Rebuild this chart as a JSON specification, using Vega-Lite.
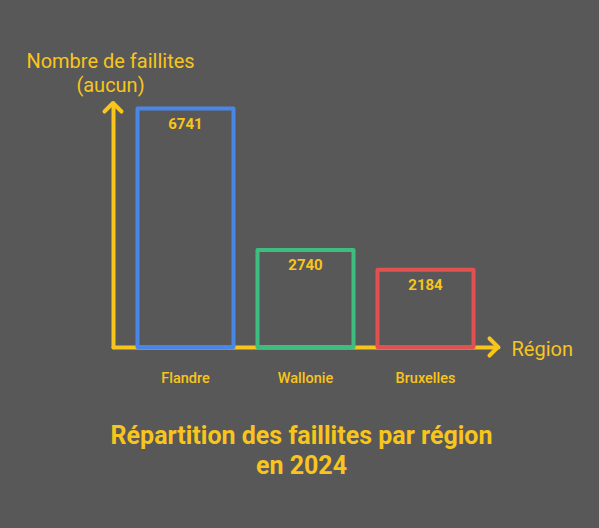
{
  "$schema": "https://vega.github.io/schema/vega-lite/v6.json",
  "autosize": {"type": "none"},
  "padding": {"left": 113, "top": 103, "right": 101, "bottom": 181},
  "width": 385,
  "height": 244,
  "background": "#585858",
  "config": {
    "view": {"stroke": null},
    "font": "Roboto"
  },
  "title": {
    "text": ["Répartition des faillites par région", "en 2024"],
    "orient": "bottom",
    "anchor": "middle",
    "frame": "group",
    "dx": -4,
    "offset": 39,
    "font": "Roboto",
    "fontSize": 25,
    "fontWeight": "bold",
    "lineHeight": 30,
    "color": "#F8C51C"
  },
  "data": {
    "values": [
      {"region": "Flandre", "faillites": 6741, "couleur": "Flandre"},
      {"region": "Wallonie", "faillites": 2740, "couleur": "Wallonie"},
      {"region": "Bruxelles", "faillites": 2184, "couleur": "Bruxelles"}
    ]
  },
  "encoding": {
    "x": {
      "field": "region",
      "type": "nominal",
      "sort": null,
      "scale": {"paddingInner": 0.2, "paddingOuter": 0.204},
      "axis": {
        "title": "Région",
        "titleAlign": "left",
        "titleBaseline": "alphabetic",
        "titleX": 398,
        "titleY": 8,
        "titleFont": "Roboto",
        "titleFontSize": 20,
        "titleFontWeight": "normal",
        "titleColor": "#F8C51C",
        "labelAngle": 0,
        "labelFont": "Roboto",
        "labelFontSize": 14.5,
        "labelFontWeight": 500,
        "labelColor": "#F8C51C",
        "labelPadding": 24,
        "ticks": false,
        "domainColor": "#F8C51C",
        "domainWidth": 4,
        "domainCap": "round",
        "grid": false
      }
    },
    "y": {
      "field": "faillites",
      "type": "quantitative",
      "scale": {"domain": [0, 6900], "nice": false},
      "axis": {
        "title": ["Nombre de faillites", "(aucun)"],
        "titleAngle": 0,
        "titleAlign": "center",
        "titleBaseline": "alphabetic",
        "titleX": -3,
        "titleY": -36,
        "titleFont": "Roboto",
        "titleFontSize": 20,
        "titleFontWeight": "normal",
        "titleLineHeight": 24,
        "titleColor": "#F8C51C",
        "labels": false,
        "ticks": false,
        "grid": false,
        "domainColor": "#F8C51C",
        "domainWidth": 4,
        "domainCap": "round"
      }
    }
  },
  "layer": [
    {
      "mark": {
        "type": "bar",
        "filled": false,
        "strokeWidth": 4,
        "strokeJoin": "round",
        "fill": null
      },
      "encoding": {
        "stroke": {
          "field": "couleur",
          "type": "nominal",
          "scale": {
            "domain": ["Flandre", "Wallonie", "Bruxelles"],
            "range": ["#4A86E8", "#3DBE7E", "#E0524F"]
          },
          "legend": null
        }
      }
    },
    {
      "mark": {
        "type": "text",
        "baseline": "top",
        "dy": 8,
        "font": "Roboto",
        "fontSize": 15,
        "fontWeight": "bold",
        "color": "#F8C51C"
      },
      "encoding": {
        "text": {"field": "faillites", "type": "quantitative", "format": "d"}
      }
    },
    {
      "data": {"values": [{"axe": "y", "faillites": 6900}]},
      "mark": {
        "type": "point",
        "shape": "M-1,1L0,0L1,1",
        "size": 290,
        "filled": false,
        "strokeWidth": 4,
        "strokeCap": "round",
        "strokeJoin": "round",
        "opacity": 1
      },
      "encoding": {
        "x": {"value": 0},
        "y": {"field": "faillites", "type": "quantitative"},
        "stroke": {"value": "#F8C51C"}
      }
    },
    {
      "data": {"values": [{"axe": "x", "faillites": 0}]},
      "mark": {
        "type": "point",
        "shape": "M-1,-1L0,0L-1,1",
        "size": 290,
        "filled": false,
        "strokeWidth": 4,
        "strokeCap": "round",
        "strokeJoin": "round",
        "opacity": 1
      },
      "encoding": {
        "x": {"value": "width"},
        "y": {"field": "faillites", "type": "quantitative"},
        "stroke": {"value": "#F8C51C"}
      }
    }
  ]
}
